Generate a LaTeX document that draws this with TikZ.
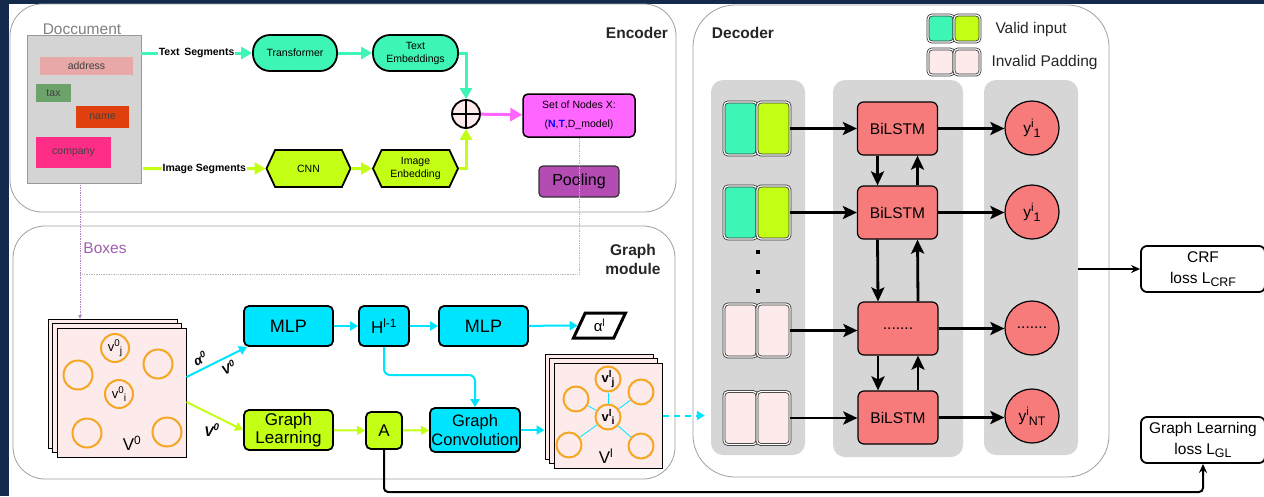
\documentclass[tikz,border=0pt]{standalone}
\usepackage{fontspec}
\usepackage{graphicx}
\setmainfont{Liberation Sans}
\usetikzlibrary{arrows.meta,shapes.geometric,shapes.symbols}

\definecolor{navy}{HTML}{142A4C}
\definecolor{aqua}{HTML}{3DF5B4}
\definecolor{lime}{HTML}{C3FF14}
\definecolor{cyanb}{HTML}{00E5FF}
\definecolor{magb}{HTML}{FF66FF}
\definecolor{poolc}{HTML}{B44CB4}
\definecolor{rosebg}{HTML}{FDEBEB}
\definecolor{orng}{HTML}{F5A623}
\definecolor{colgray}{HTML}{D6D6D6}
\definecolor{salmon}{HTML}{F77B7B}
\definecolor{docgray}{HTML}{D4D4D4}
\definecolor{addrc}{HTML}{E8A8A8}
\definecolor{taxc}{HTML}{6BA36B}
\definecolor{namec}{HTML}{E0400E}
\definecolor{compc}{HTML}{FF2D87}
\definecolor{boxpurple}{HTML}{A060B0}

\newcommand{\fs}[2]{\fontsize{#1}{#2}\selectfont}
% raised / lowered indices, a bit larger than \textsubscript
\newcommand{\supx}[1]{\raisebox{0.8ex}{\scalebox{0.75}{#1}}}
\newcommand{\subx}[1]{\raisebox{-0.45ex}{\scalebox{0.8}{#1}}}

\tikzset{
	panel/.style = {draw=gray!75, line width=0.8pt, fill=white, rounded corners=32pt},
	field/.style = {shape=rectangle, inner sep=0, font=\fs{10.5}{12}, text=black!75},
	pill/.style = {
		shape=rectangle, draw, line width=1.8pt, fill=aqua,
		rounded corners=17pt, align=center, inner sep=0,
		minimum width=84pt, minimum height=36pt, font=\fs{10.5}{13}
	},
	hexa/.style = {
		shape=signal, signal to=west and east, signal pointer angle=130,
		draw, line width=1.8pt, fill=lime, align=center, inner sep=0,
		minimum width=84pt, minimum height=37pt, font=\fs{10.5}{13}
	},
	gbox/.style = {shape=rectangle, draw, line width=1.8pt, rounded corners=5pt, align=center, inner sep=0, font=\fs{17}{18}},
	sheet/.style = {shape=rectangle, draw, line width=1pt, fill=rosebg, inner sep=0},
	vnode/.style = {shape=circle, draw=orng, line width=2pt, inner sep=0, font=\fs{13}{13}},
	cell/.style = {shape=rectangle, draw=black!80, line width=0.8pt, double distance=1.2pt, rounded corners=4pt, inner sep=0},
	lstm/.style = {shape=rectangle, draw, line width=1.2pt, fill=salmon, rounded corners=6pt, minimum width=80pt, minimum height=53pt, inner sep=0, font=\fs{15.5}{16}},
	yout/.style = {shape=circle, draw, line width=1.2pt, fill=salmon, minimum size=54pt, inner sep=0, font=\fs{15.5}{16}},
	loss/.style = {shape=rectangle, draw, line width=1.8pt, fill=white, rounded corners=6pt, align=center, inner sep=0, minimum width=124pt, minimum height=46pt, font=\fs{15.5}{21}},
	flow/.style = {line width=2.8pt, -{Stealth[length=14pt,width=13pt,inset=3pt]}},
	aquaflow/.style = {draw=aqua, line width=3pt, -{Triangle[length=11pt,width=12pt]}},
	limeflow/.style = {draw=lime, line width=3pt, -{Triangle[length=11pt,width=12pt]}},
	cyflow/.style = {draw=cyanb, line width=2pt, -{Triangle[length=8pt,width=9pt]}},
	greenflow/.style = {draw=lime, line width=2pt, -{Triangle[length=8pt,width=9pt]}},
	dotgray/.style = {draw=gray!55, densely dotted, line width=0.7pt},
	dotpink/.style = {draw=boxpurple!80, densely dotted, line width=0.7pt}
}

\begin{document}
\begin{tikzpicture}[x=1pt, y=-1pt]
	\useasboundingbox (0,0) rectangle (1264,496);
	\fill[navy] (0,0) rectangle (1264,496);
	\fill[white] (9,4) rectangle (1264,496);

	% panels
	\draw[panel] (10,4) rectangle (676,212);
	\draw[panel] (13,226) rectangle (675,479);
	\draw[panel, rounded corners=42pt] (693,5) rectangle (1109,477);
	\node[font=\fs{15.5}{16}\bfseries, text=black!85] (enclabel) at (637,33) {Encoder};
	\node[font=\fs{15.5}{19}\bfseries, text=black!85, align=center] (gmlabel) at (633,259) {Graph\\module};
	\node[font=\fs{15.5}{16}\bfseries, text=black!85] (declabel) at (743,33) {Decoder};

	%%% encoder
	\node[shape=rectangle, draw=gray!80, fill=docgray, minimum width=114pt, minimum height=148pt, inner sep=0] (doc) at (84,109) {};
	\node[font=\fs{15.5}{16}, text=gray, inner sep=0] (doctitle) at (82,29) {Doccument};
	\node[field, fill=addrc, minimum width=93pt, minimum height=18pt] (address) at (86.5,66) {address};
	\node[field, fill=taxc, minimum width=35pt, minimum height=18pt] (tax) at (53.5,93) {tax};
	\node[field, fill=namec, minimum width=53pt, minimum height=22pt] (name) at (102.5,117) {name};
	\node[field, fill=compc, minimum width=75pt, minimum height=31pt] (company) at (73.5,152.5) {company};

	\node[pill] (trans) at (295,53) {Transformer};
	\node[pill, minimum width=85pt] (temb) at (415.5,53) {Text\\Embeddings};
	\node[hexa] (cnn) at (308.5,168.5) {CNN};
	\node[hexa, minimum width=85pt] (iemb) at (415.5,168.5) {Image\\Enbedding};
	\node[circle, draw, line width=1.8pt, fill=rosebg, minimum size=28pt, inner sep=0,
		path picture={\draw[line width=1.8pt]
			(path picture bounding box.north) -- (path picture bounding box.south)
			(path picture bounding box.west) -- (path picture bounding box.east);}] (sum) at (466,114) {};
	\node[gbox, line width=1.5pt, fill=magb, minimum width=112pt, minimum height=43pt, font=\fs{10.5}{19}] (setx) at (579,115.5)
		{Set of Nodes X:\\(\textcolor{blue}{\textbf{N}},\textcolor{blue}{\textbf{T}},D\_model)};
	\node[gbox, line width=1.2pt, draw=black!80, fill=poolc, rounded corners=4pt, minimum width=80pt, minimum height=31pt, font=\fs{16}{16}] (pool) at (579,181.5) {Pooling};

	\draw[aquaflow] (doc.east |- trans) -- node[fill=white, inner sep=1pt, text=black, font=\fs{10.5}{12}\bfseries] {Text\, Segments} (trans);
	\draw[aquaflow] (trans) -- (temb);
	\draw[aquaflow] (temb.east) -| (sum.north);
	\draw[limeflow] ([xshift=2pt]doc.east |- cnn) -- node[fill=white, inner sep=1pt, text=black, font=\fs{10.5}{12}\bfseries] {Image Segments} (cnn);
	\draw[limeflow] (cnn) -- (iemb);
	\draw[limeflow] (iemb.east) -| (sum.south);
	\draw[draw=magb, line width=3pt, -{Triangle[length=12pt,width=13pt]}] (sum) -- (setx);

	%%% graph module
	\coordinate (boxin) at (80,319);
	\coordinate (boxjoin) at (80,274);
	\draw[dotgray] (setx.south) |- (boxjoin);
	\draw[dotpink, -{Latex[length=4pt,width=4pt]}] (doc.south -| boxin) -- (boxin);
	\node[font=\fs{15.5}{16}, text=boxpurple] (boxes) at (105,248) {Boxes};

	\foreach \d/\n in {9/a,4.5/b,0/c}
		\node[sheet, minimum size=129pt] (vz\n) at (121.5-\d,392.5-\d) {};
	\node[vnode, minimum size=28pt] (vzj) at (115,348) {v\supx{0}\subx{j}};
	\node[vnode, minimum size=28pt] (vzi) at (119,394) {v\supx{0}\subx{i}};
	\foreach \xx/\yy in {78/375,158/364,87/433,167/432}
		\node[vnode, minimum size=29pt] at (\xx,\yy) {};
	\node[font=\fs{17}{17}] (vzlabel) at (132,443) {V\textsuperscript{0}};

	\node[gbox, fill=cyanb, minimum width=89pt, minimum height=40pt, font=\fs{18}{18}] (mlpa) at (288.5,326) {MLP};
	\node[gbox, fill=cyanb, minimum width=50pt, minimum height=40pt] (hprev) at (384,326) {H\textsuperscript{l-1}};
	\node[gbox, fill=cyanb, minimum width=89pt, minimum height=40pt, font=\fs{18}{18}] (mlpb) at (483.5,326) {MLP};
	\node[trapezium, trapezium left angle=70, trapezium right angle=110, trapezium stretches=true,
		draw, line width=3pt, minimum width=52pt, minimum height=25pt, inner sep=0, font=\fs{15}{15}] (alpha) at (599.5,325.5) {α\textsuperscript{l}};
	\node[gbox, fill=lime, minimum width=89pt, minimum height=40pt] (glearn) at (288.5,430) {Graph\\Learning};
	\node[gbox, fill=lime, minimum width=36pt, minimum height=37pt] (adj) at (384,430.5) {A};
	\node[gbox, fill=cyanb, minimum width=90pt, minimum height=44pt, font=\fs{16.5}{19}] (gconv) at (475,430) {Graph\\Convolution};

	\draw[cyflow] ([yshift=15.5pt]vzc.east) -- node[above=3pt, sloped, pos=.3, inner sep=1pt, text=black, font=\fs{13}{13}\bfseries\itshape] {α\textsuperscript{0}}
		node[below=3pt, sloped, pos=.62, inner sep=1pt, text=black, font=\fs{13}{13}\bfseries\itshape] {V\textsuperscript{0}} ([xshift=4pt]mlpa.south west);
	\draw[greenflow] ([yshift=-9.5pt]vzc.east) -- node[pos=.45, below=5pt, text=black, font=\fs{14}{14}\bfseries\itshape] {V\textsuperscript{0}} (glearn.west);
	\draw[cyflow] (mlpa) -- (hprev);
	\draw[cyflow] (hprev) -- (mlpb);
	\draw[cyflow] (mlpb) -- (alpha);
	\draw[cyflow, rounded corners=6pt] (hprev.south) |- (gconv.north |- 0,375) -- (gconv.north);
	\draw[greenflow] (glearn) -- (adj);
	\draw[greenflow] (adj) -- (gconv);

	\foreach \d/\n in {9/a,4.5/b,0/c}
		\node[sheet, minimum width=108pt, minimum height=105pt] (vl\n) at (608-\d,415.5-\d) {};
	\node[vnode, minimum size=25pt, font=\fs{13}{13}\bfseries] (vlj) at (608,379) {v\supx{l}\subx{j}};
	\node[vnode, minimum size=25pt, font=\fs{13}{13}\bfseries] (vli) at (608,417) {v\supx{l}\subx{i}};
	\foreach \xx/\yy/\n in {576/399/p,641/392/q,569/445/r,641/446/s} {
		\node[vnode, minimum size=25pt] (vl\n) at (\xx,\yy) {};
		\draw[cyanb, line width=0.8pt] (vli) -- (vl\n);
	}
	\draw[cyanb, line width=0.8pt] (vli) -- (vlj);
	\node[font=\fs{17}{17}] (vllabel) at (606,456) {V\textsuperscript{l}};
	\draw[cyflow] (gconv.east) -- (gconv.east -| vla.west);

	%%% decoder
	\node[fill=colgray, rounded corners=12pt, minimum width=94pt, minimum height=375pt] (cola) at (758,267.5) {};
	\node[fill=colgray, rounded corners=12pt, minimum width=130pt, minimum height=377pt] (colb) at (898,268.5) {};
	\node[fill=colgray, rounded corners=12pt, minimum width=94pt, minimum height=375pt] (colc) at (1031,267.5) {};

	% legend
	\node[cell, fill=aqua, minimum width=26pt, minimum height=27pt] (lga) at (941,28.5) {};
	\node[cell, fill=lime, minimum width=26pt, minimum height=27pt] (lgb) at (967,28.5) {};
	\node[cell, fill=rosebg, minimum width=26pt, minimum height=26pt] (lgc) at (941,62) {};
	\node[cell, fill=rosebg, minimum width=26pt, minimum height=26pt] (lgd) at (967,62) {};
	\node[anchor=west, font=\fs{15.5}{16}, text=black!85] (lgvalid) at (992,29) {Valid input};
	\node[anchor=west, font=\fs{15.5}{16}, text=black!85] (lginvalid) at (988,62) {Invalid Padding};

	\foreach \r/\yy/\ca/\cb in {1/128.5/aqua/lime, 2/212.5/aqua/lime, 3/330.5/rosebg/rosebg, 4/418/rosebg/rosebg} {
		\node[cell, fill=\ca, minimum width=33pt, minimum height=53pt] (inl\r) at (740.5,\yy) {};
		\node[cell, fill=\cb, minimum width=33pt, minimum height=53pt] (inr\r) at (773.5,\yy) {};
	}
	\foreach \yy in {252,272,291}
		\node[fill, minimum size=4pt, inner sep=0] at (758,\yy) {};

	\node[lstm] (lstm1) at (897.5,128.5) {BiLSTM};
	\node[lstm] (lstm2) at (897.5,212.5) {BiLSTM};
	\node[lstm] (lstm3) at (898,328.5) {.......};
	\node[lstm] (lstm4) at (898,417.5) {BiLSTM};
	\node[yout] (y1) at (1032,128) {y\supx{i}\subx{1}};
	\node[yout] (y2) at (1032,212) {y\supx{i}\subx{1}};
	\node[yout] (y3) at (1032,328) {.......};
	\node[yout] (y4) at (1032,416) {y\supx{i}\subx{NT}};

	\foreach \r in {1,2,3,4} {
		\draw[flow] (inr\r.east) -- (lstm\r.west |- inr\r.east);
		\draw[flow] (lstm\r.east) -- (y\r.west |- lstm\r.east);
	}
	\foreach \a/\b in {1/2,2/3,3/4} {
		\draw[flow] ([xshift=-20pt]lstm\a.south) -- ([xshift=-20pt]lstm\b.north);
		\draw[flow] ([xshift=20pt]lstm\b.north) -- ([xshift=20pt]lstm\a.south);
	}

	\draw[cyflow, dash pattern=on 6pt off 5pt] (vlc.east) -- ([xshift=-6pt]cola.west |- vlc.east);

	% losses
	\node[loss] (crf) at (1203,269) {CRF\\loss L\subx{CRF}};
	\node[loss] (glloss) at (1203,440) {Graph Learning\\loss L\subx{GL}};
	\draw[line width=1.5pt, -{Stealth[length=9pt,width=8pt]}] (colc.east |- crf) -- (crf.west);
	\draw[line width=2pt, rounded corners=4pt, -{Stealth[length=9pt,width=8pt]}] (adj.south) |- (0,492 -| glloss.south) -- (glloss.south);
\end{tikzpicture}
\end{document}
